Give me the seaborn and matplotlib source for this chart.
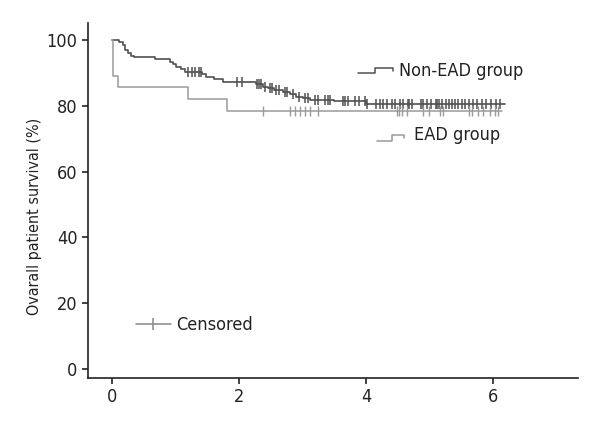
import numpy as np
import pandas as pd
import seaborn as sns
import matplotlib.pyplot as plt
from matplotlib import font_manager

# Kaplan-Meier step points (time in years, survival %)
non_ead_time = [0, 0.10, 0.17, 0.21, 0.25, 0.30, 0.35, 0.67, 0.91, 0.96, 1.01, 1.09,
                1.15, 1.42, 1.48, 1.60, 1.75, 2.27, 2.38, 2.45, 2.55, 2.69, 2.80,
                2.90, 3.00, 3.11, 3.50, 4.00, 6.18]
non_ead_surv = [100, 99.5, 98.5, 97.0, 96.0, 95.1, 94.7, 94.2, 93.4, 92.6, 91.7, 91.1,
                90.4, 89.6, 88.8, 88.0, 87.3, 86.6, 85.8, 85.3, 84.8, 84.1, 83.5,
                82.8, 82.3, 81.8, 81.5, 80.6, 80.6]

ead_time = [0, 0.02, 0.095, 1.20, 1.81, 6.13]
ead_surv = [100, 89.0, 85.6, 82.0, 78.4, 78.4]

# censoring times
non_ead_cens = [1.20, 1.25, 1.30, 1.36, 1.40, 1.96, 2.04, 2.28, 2.31, 2.34, 2.40,
                2.48, 2.52, 2.58, 2.62, 2.72, 2.76, 2.84, 2.94, 3.04, 3.08,
                3.19, 3.24, 3.35, 3.40, 3.43, 3.64, 3.66, 3.72, 3.82, 3.88, 3.98,
                4.01, 4.16, 4.22, 4.27, 4.32, 4.40, 4.45, 4.53, 4.58, 4.65, 4.68,
                4.72, 4.86, 4.90, 4.95, 5.02, 5.10, 5.12, 5.15, 5.20, 5.25, 5.30,
                5.35, 5.40, 5.45, 5.50, 5.55, 5.62, 5.68, 5.75, 5.82, 5.88, 5.96,
                6.04, 6.10]
ead_cens = [2.38, 2.80, 2.88, 2.96, 3.03, 3.11, 3.24, 4.48, 4.52, 4.56, 4.64,
            4.90, 4.98, 5.16, 5.21, 5.61, 5.66, 5.76, 5.84, 5.95, 6.03, 6.08]

dark = '#505050'
light = '#9a9a9a'

sns.set_style('ticks')
names = {f.name for f in font_manager.fontManager.ttflist}
narrow = [n for n in ['Liberation Sans Narrow', 'DejaVu Sans Condensed'] if n in names]
plt.rcParams['font.family'] = narrow + ['DejaVu Sans']
plt.rcParams['font.stretch'] = 'condensed'

fig = plt.figure(figsize=(6, 4.4), dpi=100)
ax = fig.add_axes([0.1467, 0.141, 0.8163, 0.807])

def surv_at(times, survs, t):
    idx = np.searchsorted(times, t, side='right') - 1
    return np.array(survs)[idx]

non_ead = pd.DataFrame({'t': non_ead_time, 's': non_ead_surv})
ead = pd.DataFrame({'t': ead_time, 's': ead_surv})
sns.lineplot(data=non_ead, x='t', y='s', drawstyle='steps-post', color=dark, lw=1.2, ax=ax)
sns.lineplot(data=ead, x='t', y='s', drawstyle='steps-post', color=light, lw=1.1, ax=ax)

nc = pd.DataFrame({'t': non_ead_cens, 's': surv_at(non_ead_time, non_ead_surv, non_ead_cens)})
ec = pd.DataFrame({'t': ead_cens, 's': surv_at(ead_time, ead_surv, ead_cens)})
sns.scatterplot(data=nc, x='t', y='s', marker='|', s=55, color=dark, linewidth=1.1, ax=ax)
sns.scatterplot(data=ec, x='t', y='s', marker='|', s=45, color=light, linewidth=1, ax=ax)

# legend-like annotations
ax.plot([3.87, 4.14, 4.14, 4.42, 4.42], [89.9, 89.9, 91.4, 91.4, 90.6], color=dark, lw=1.1)
ax.text(4.51, 90.7, 'Non-EAD group', fontsize=13, va='center', color='#222222')
ax.plot([4.17, 4.40, 4.40, 4.60, 4.60], [69.4, 69.4, 71.1, 71.1, 70.2], color=light, lw=1.1)
ax.text(4.75, 71.1, 'EAD group', fontsize=13, va='center', color='#222222')
ax.plot([0.38, 0.92], [13.7, 13.7], color='#888888', lw=1.1)
ax.plot([0.65], [13.7], marker='|', ms=9, color='#888888', mew=1.1)
ax.text(1.0, 13.4, 'Censored', fontsize=13, va='center', color='#222222')

ax.set_xlim(-0.38, 7.33)
ax.set_ylim(-2.7, 105.2)
ax.set_xticks([0, 2, 4, 6])
ax.set_yticks([0, 20, 40, 60, 80, 100])
ax.set_xlabel('')
ax.set_ylabel('Ovarall patient survival (%)', fontsize=11.5, color='#222222')
ax.yaxis.set_label_coords(-0.094, 0.455)
ax.tick_params(labelsize=13, length=4, width=1.2, color='#222222', labelcolor='#222222')
for sp in ['left', 'bottom']:
    ax.spines[sp].set_color('#222222')
    ax.spines[sp].set_linewidth(1.2)
sns.despine(ax=ax)

fig.savefig('out.png', dpi=100)
